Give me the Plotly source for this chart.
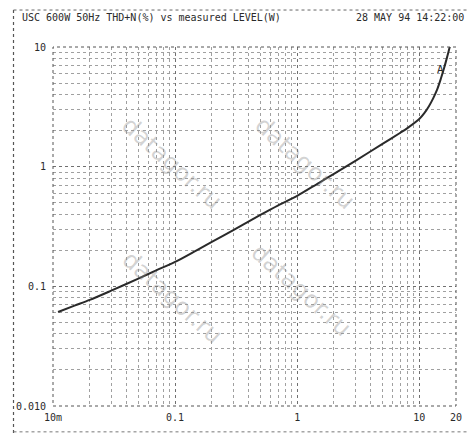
import plotly.graph_objects as go

# Data (THD+N % vs output level W)
level_w = [0.011, 0.015, 0.02, 0.03, 0.05, 0.07, 0.1, 0.15, 0.2, 0.3, 0.5, 0.7,
           1, 1.5, 2, 3, 5, 7, 8, 10, 11, 12, 13, 14, 15, 16, 17, 18, 19.5]
thd_pct = [0.061, 0.069, 0.077, 0.092, 0.116, 0.136, 0.16, 0.2, 0.235, 0.295, 0.395, 0.475,
           0.57, 0.73, 0.87, 1.12, 1.55, 1.92, 2.1, 2.5, 2.8, 3.2, 3.72, 4.4, 5.4, 6.7, 8.4,
           10.5, 14.0]

x_tickvals = [0.01, 0.1, 1, 10, 20]
x_ticktext = ["10m", "0.1", "1", "10", "20"]
y_tickvals = [0.01, 0.1, 1, 10]
y_ticktext = ["0.010", "0.1", "1", "10"]

title_left = "USC 600W 50Hz THD+N(%) vs measured LEVEL(W)"
title_right = "28 MAY 94 14:22:00"
watermark = "datagor.ru"
watermark_pos = [(0.15, 0.83), (0.77, 0.83), (0.15, 0.15), (0.76, 0.17)]

mono = "DejaVu Sans Mono"
ink = "#2a2a2a"

fig = go.Figure()
fig.add_trace(go.Scatter(x=level_w, y=thd_pct, mode="lines",
                         line=dict(color=ink, width=2, shape="spline", smoothing=0.8),
                         showlegend=False))

grid_major = "#707070"
grid_minor = "#a0a0a0"
axis_common = dict(type="log", showline=False, zeroline=False, ticks="",
                   gridcolor=grid_major, griddash="dot", gridwidth=1,
                   tickfont=dict(family=mono, size=10, color=ink),
                   minor=dict(showgrid=True, dtick="D1", gridcolor=grid_minor,
                              griddash="dot", gridwidth=1, ticks=""))
fig.update_xaxes(range=[-2, 1.30103], tickvals=x_tickvals, ticktext=x_ticktext,
                 ticklabelstandoff=4, **axis_common)
fig.update_yaxes(range=[-2, 1], tickvals=y_tickvals, ticktext=y_ticktext,
                 ticklabelstandoff=6, **axis_common)

shapes = [
    dict(type="rect", xref="paper", yref="paper", x0=0, y0=0, x1=1, y1=1,
         line=dict(color="#555", width=1, dash="dot")),
    # outer frame of the printout
    dict(type="line", xref="paper", yref="paper", x0=-0.098, x1=-0.098, y0=-0.075, y1=1.103,
         line=dict(color="#555", width=1.2, dash="dot")),
    dict(type="line", xref="paper", yref="paper", x0=-0.098, x1=1.03, y0=1.103, y1=1.103,
         line=dict(color="#666", width=1, dash="dot")),
    dict(type="line", xref="paper", yref="paper", x0=-0.098, x1=1.03, y0=-0.072, y1=-0.072,
         line=dict(color="#777", width=1, dash="dot")),
]

annotations = [
    dict(text=title_left, xref="paper", yref="paper", x=-0.081, y=1.083,
         xanchor="left", yanchor="middle", showarrow=False,
         font=dict(family=mono, size=10, color=ink)),
    dict(text=title_right, xref="paper", yref="paper", x=1.024, y=1.083,
         xanchor="right", yanchor="middle", showarrow=False,
         font=dict(family=mono, size=10, color=ink)),
    dict(text="A", x=1.177, y=0.81, xref="x", yref="y", showarrow=False,
         font=dict(family=mono, size=11, color=ink)),
]
for (wx, wy) in watermark_pos:
    annotations.append(dict(text=watermark, xref="paper", yref="paper", x=wx, y=wy,
                            showarrow=False, textangle=42,
                            font=dict(family="DejaVu Sans", size=24,
                                      color="rgba(140,140,140,0.38)")))

fig.update_layout(width=474, height=435, margin=dict(l=53, r=12, t=47, b=29),
                  paper_bgcolor="white", plot_bgcolor="white",
                  shapes=shapes, annotations=annotations)

fig.write_html("out.html", config={"displayModeBar": False},
               post_script="document.body.style.margin='0';")
